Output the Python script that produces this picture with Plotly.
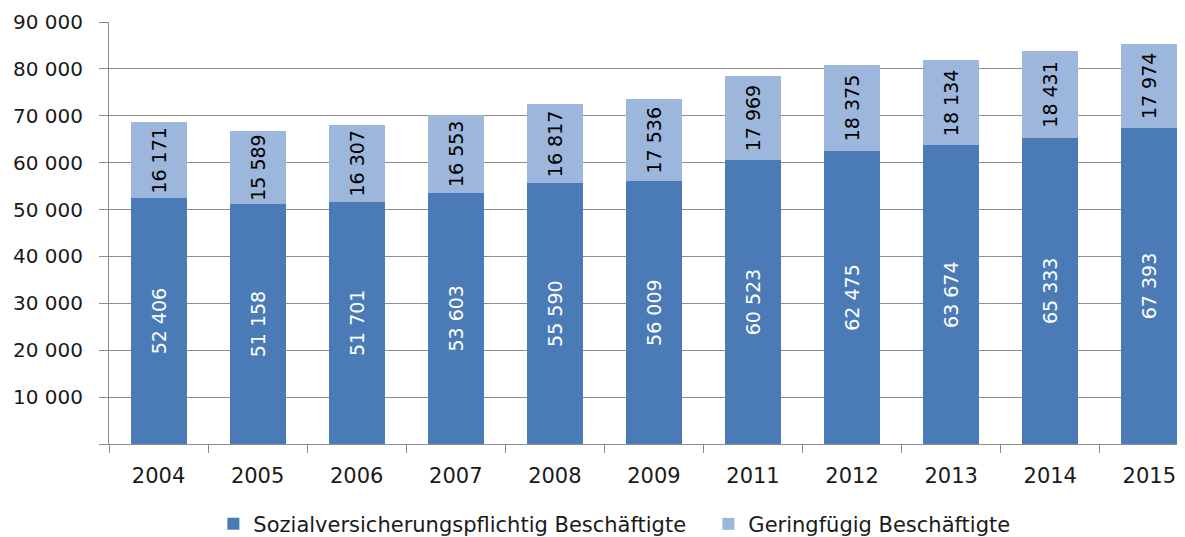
import plotly.graph_objects as go

years = ["2004", "2005", "2006", "2007", "2008", "2009", "2011", "2012", "2013", "2014", "2015"]
sozial = [52406, 51158, 51701, 53603, 55590, 56009, 60523, 62475, 63674, 65333, 67393]
gering = [16171, 15589, 16307, 16553, 16817, 17536, 17969, 18375, 18134, 18431, 17974]
y_ticks = list(range(0, 90001, 10000))

FONT = "DejaVu Sans, sans-serif"

fig = go.Figure()
fig.add_trace(go.Bar(
    x=years, y=sozial, name="Sozialversicherungspflichtig Beschäftigte",
    marker=dict(color="#4a7bb7", line=dict(width=0)),
    texttemplate="%{y:,d}", textposition="inside", insidetextanchor="middle",
    textangle=-90, constraintext="none",
    textfont=dict(color="white", size=19, family=FONT),
))
fig.add_trace(go.Bar(
    x=years, y=gering, name="Geringfügig Beschäftigte",
    marker=dict(color="#9db6dc", line=dict(width=0)),
    texttemplate="%{y:,d}", textposition="inside", insidetextanchor="middle",
    textangle=-90, constraintext="none",
    textfont=dict(color="black", size=19, family=FONT),
))

fig.update_layout(
    barmode="stack", bargap=0.434,
    width=1177, height=529,
    margin=dict(l=101, r=0, t=14, b=93, autoexpand=False),
    paper_bgcolor="white", plot_bgcolor="white",
    separators=", ",
    font=dict(family=FONT, size=18, color="#1a1a1a"),
    legend=dict(orientation="h", x=0.097, xanchor="left", y=-0.19, yanchor="middle",
                font=dict(size=21, family=FONT), itemwidth=30, traceorder="normal",
                entrywidth=450, entrywidthmode="pixels"),
    showlegend=True,
)
fig.update_yaxes(range=[0, 90000], tickvals=y_ticks,
                 ticktext=["" if v == 0 else f"{v:,d}".replace(",", " ") for v in y_ticks],
                 showgrid=True, gridcolor="#8c8c8c", gridwidth=1,
                 showline=True, linecolor="#8c8c8c", linewidth=1,
                 ticks="outside", ticklen=9, tickcolor="#8c8c8c",
                 ticklabelstandoff=12, automargin=False,
                 tickfont=dict(size=20, family=FONT), zeroline=False)
fig.update_xaxes(range=[-0.5, 10.36], showline=True, linecolor="#8c8c8c", linewidth=1,
                 ticks="outside", ticklen=8, tickcolor="#8c8c8c", tickson="boundaries",
                 ticklabelstandoff=13, automargin=False,
                 tickfont=dict(size=21, family=FONT))

fig.write_html("out.html")
